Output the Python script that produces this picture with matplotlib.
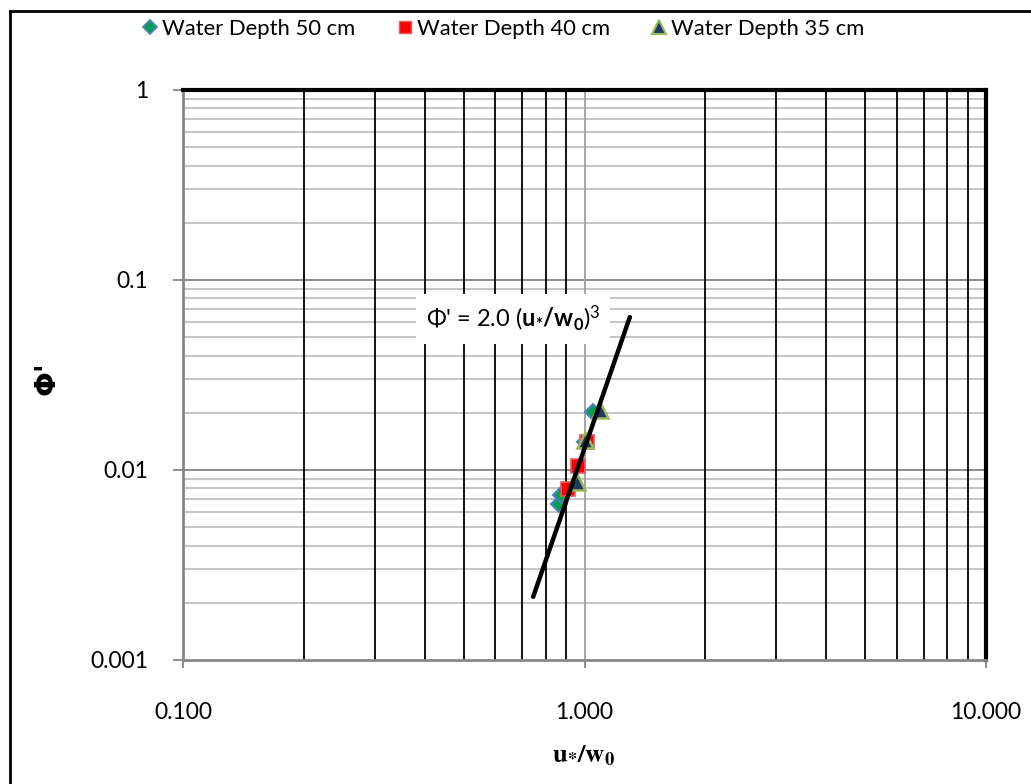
import matplotlib
matplotlib.use("Agg")
import matplotlib.pyplot as plt
from matplotlib.lines import Line2D
from matplotlib.ticker import FixedLocator, FixedFormatter, NullFormatter

plt.rcParams['font.family'] = ['Lato', 'DejaVu Sans']
plt.rcParams['mathtext.fontset'] = 'custom'
plt.rcParams['mathtext.rm'] = 'Lato'
plt.rcParams['mathtext.it'] = 'Lato'
plt.rcParams['mathtext.bf'] = 'Lato:bold'

# Measured transport rate vs. shear-to-fall velocity ratio
depth50_x = [0.866, 0.875, 1.00, 1.05]
depth50_y = [0.0066, 0.0074, 0.0141, 0.0203]
depth40_x = [0.910, 0.964, 1.014]
depth40_y = [0.0079, 0.0105, 0.0140]
depth35_x = [0.958, 1.000, 1.093]
depth35_y = [0.0086, 0.0143, 0.0208]

# Fitted relation, end points
fit_x = [0.745, 1.297]
fit_y = [0.00215, 0.0638]

x_ticks = [0.1, 1.0, 10.0]
x_tick_labels = ["0.100", "1.000", "10.000"]
y_ticks = [0.001, 0.01, 0.1, 1.0]
y_tick_labels = ["0.001", "0.01", "0.1", "1"]

fig = plt.figure(figsize=(10.31, 7.84), dpi=100)
ax = fig.add_axes([183 / 1031, 1 - 660 / 784, 803 / 1031, 570 / 784])
ax.set_xscale('log')
ax.set_yscale('log')
ax.set_xlim(0.1, 10)
ax.set_ylim(0.001, 1)

# grid lines
minor_x = [m * d for d in (0.1, 1.0) for m in range(2, 10)]
for xv in minor_x:
    ax.axvline(xv, color='black', lw=1.3, zorder=1)
ax.axvline(1.0, color='#A6A6A6', lw=1.4, zorder=1)
minor_y = [m * d for d in (0.001, 0.01, 0.1) for m in range(2, 10)]
for yv in minor_y:
    ax.axhline(yv, color='#C0C0C0', lw=1.3, zorder=0.5)
for yv in (0.01, 0.1):
    ax.axhline(yv, color='#8C8C8C', lw=1.4, zorder=0.6)

# spines
for s in ('left', 'bottom'):
    ax.spines[s].set_color('#868686')
    ax.spines[s].set_linewidth(2.0)
for s in ('top', 'right'):
    ax.spines[s].set_color('black')
    ax.spines[s].set_linewidth(3.0)

ax.xaxis.set_major_locator(FixedLocator(x_ticks))
ax.xaxis.set_major_formatter(FixedFormatter(x_tick_labels))
ax.yaxis.set_major_locator(FixedLocator(y_ticks))
ax.yaxis.set_major_formatter(FixedFormatter(y_tick_labels))
ax.xaxis.set_minor_locator(FixedLocator([]))
ax.yaxis.set_minor_locator(FixedLocator([]))
ax.xaxis.set_minor_formatter(NullFormatter())
ax.yaxis.set_minor_formatter(NullFormatter())
ax.tick_params(axis='x', which='major', direction='out', length=6, width=1.3,
               color='#868686', labelsize=16.5, pad=24)
ax.tick_params(axis='y', which='major', direction='out', length=7, width=1.3,
               color='#868686', labelsize=16.5, pad=18)

# fitted line
ax.plot(fit_x, fit_y, color='black', lw=3.2, solid_capstyle='round', zorder=5)

# data series
ax.plot(depth50_x, depth50_y, ls='none', marker='D', ms=8, mfc='#00A050',
        mec='#4F81BD', mew=1.5, zorder=3)
ax.plot(depth40_x, depth40_y, ls='none', marker='s', ms=10, mfc='#FF0000',
        mec='#E06060', mew=1.2, zorder=3.2)
ax.plot(depth35_x, depth35_y, ls='none', marker='^', ms=11, mfc='#1F3864',
        mec='#9BBB59', mew=1.8, zorder=3.4)

# equation label
ax.text(0.411, 0.598, "Φ' = 2.0 ($\\mathbf{u_{*}/w_{0}}$)$^{\\mathrm{3}}$",
        transform=ax.transAxes, ha='center', va='center', fontsize=17,
        bbox=dict(facecolor='white', edgecolor='none', pad=7), zorder=6)

# axis titles
fig.text(584 / 1031, 1 - 756 / 784, r"$\mathbf{u_{*}/w_{0}}$", ha='center', va='center',
         fontsize=19, math_fontfamily='stix')
fig.text(47 / 1031, 1 - 378 / 784, "Φ'", ha='center', va='center', rotation=90,
         fontsize=21, fontweight='bold', family=['DejaVu Sans'])

# legend
handles = [
    Line2D([], [], ls='none', marker='D', ms=7, mfc='#00A050', mec='#4F81BD', mew=1.3),
    Line2D([], [], ls='none', marker='s', ms=9, mfc='#FF0000', mec='#E06060', mew=1.0),
    Line2D([], [], ls='none', marker='^', ms=10, mfc='#1F3864', mec='#9BBB59', mew=1.5),
]
labels = ["Water Depth 50 cm", "Water Depth 40 cm", "Water Depth 35 cm"]
fig.legend(handles, labels, loc='center', bbox_to_anchor=(502 / 1031, 1 - 29 / 784),
           ncol=3, frameon=False, fontsize=15.8, handletextpad=0.05,
           columnspacing=1.75, handlelength=1.0)

# chart frame
fig.add_artist(plt.Line2D([10 / 1031, 10 / 1031], [0, 1 - 11 / 784],
                          transform=fig.transFigure, color='black', lw=2))
fig.add_artist(plt.Line2D([10 / 1031, 1 + 0.01], [1 - 11 / 784, 1 - 11 / 784],
                          transform=fig.transFigure, color='black', lw=2))

fig.savefig("out.png", dpi=100)
